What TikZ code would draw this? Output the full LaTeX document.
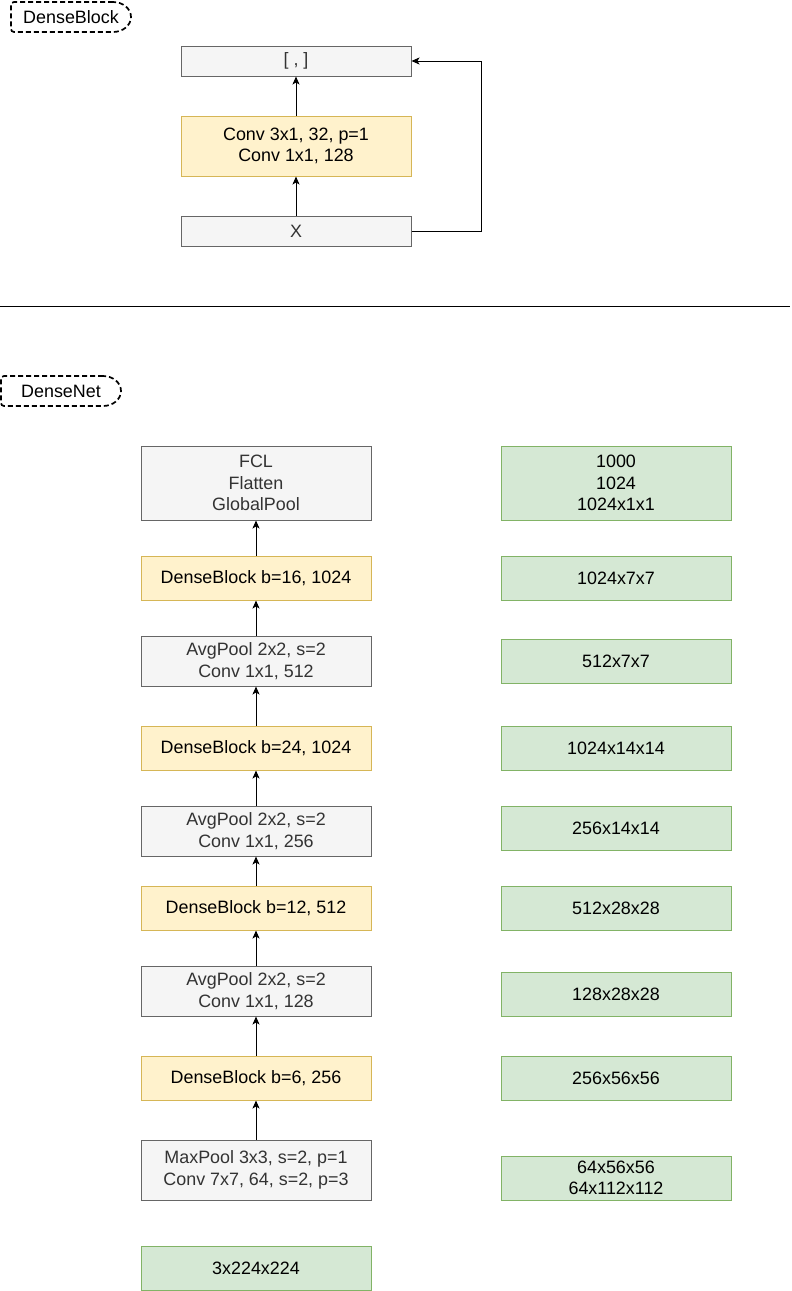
\documentclass[tikz,border=0pt]{standalone}
\usepackage{fontspec}
\setmainfont{Liberation Sans}
\usetikzlibrary{arrows.meta}
\definecolor{grayfill}{HTML}{F5F5F5}
\definecolor{graystroke}{HTML}{666666}
\definecolor{graytext}{HTML}{333333}
\definecolor{yelfill}{HTML}{FFF2CC}
\definecolor{yelstroke}{HTML}{D6B656}
\definecolor{grnfill}{HTML}{D5E8D4}
\definecolor{grnstroke}{HTML}{82B366}
\tikzset{
  box/.style={draw, line width=1pt, minimum width=230pt, inner sep=0pt,
    align=center, font=\fontsize{17.9}{21.5}\selectfont},
  graybox/.style={box, fill=grayfill, draw=graystroke, text=graytext},
  yelbox/.style={box, fill=yelfill, draw=yelstroke, text=black},
  grnbox/.style={box, fill=grnfill, draw=grnstroke, text=black},
  arr/.style={line width=1pt, -{Stealth[length=8pt,width=7pt,inset=2pt]}},
  tagline/.style={line width=1.7pt, dash pattern=on 5pt off 3pt},
  tagtext/.style={font=\fontsize{17.9}{21.5}\selectfont, inner sep=0pt}
}
\begin{document}
\begin{tikzpicture}[x=1pt,y=-1pt]
\useasboundingbox (0,0) rectangle (792,1291);

% ---- DenseBlock tag ----
\draw[tagline] (113,2) [rounded corners=3pt] -- (11,2) -- (11,32) [sharp corners] -- (113,32)
  arc[start angle=90, end angle=-90, x radius=18, y radius=15] -- cycle;
\node[tagtext] (dbtag) at (71,17) {DenseBlock};

% ---- DenseBlock structure ----
\node[graybox, minimum height=30pt] (concat) at (296,61) {[ , ]};
\node[yelbox, minimum height=60pt] (conv) at (296,146) {Conv 3x1, 32, p=1\\Conv 1x1, 128};
\node[graybox, minimum height=30pt] (xin) at (296,231) {X};
\draw[arr] (xin.north) -- (conv.south);
\draw[arr] (conv.north) -- (concat.south);
\draw[arr] (xin.east) -- ++(70,0) |- (concat.east);

% ---- separator ----
\coordinate (sepl) at (0,306);
\coordinate (sepr) at (790,306);
\draw[line width=1pt] (sepl) -- (sepr);

% ---- DenseNet tag ----
\draw[tagline] (103,376) [rounded corners=3pt] -- (1,376) -- (1,406) [sharp corners] -- (103,406)
  arc[start angle=90, end angle=-90, x radius=18, y radius=15] -- cycle;
\node[tagtext] (nettag) at (61,391) {DenseNet};

% ---- DenseNet layers ----
\node[graybox, minimum height=74pt] (fcl) at (256,483) {FCL\\Flatten\\GlobalPool};
\node[yelbox, minimum height=44pt] (db16) at (256,578) {DenseBlock b=16, 1024};
\node[graybox, minimum height=50pt] (ap3) at (256,661) {AvgPool 2x2, s=2\\Conv 1x1, 512};
\node[yelbox, minimum height=44pt] (db24) at (256,748) {DenseBlock b=24, 1024};
\node[graybox, minimum height=50pt] (ap2) at (256,831) {AvgPool 2x2, s=2\\Conv 1x1, 256};
\node[yelbox, minimum height=44pt] (db12) at (256,908) {DenseBlock b=12, 512};
\node[graybox, minimum height=50pt] (ap1) at (256,991) {AvgPool 2x2, s=2\\Conv 1x1, 128};
\node[yelbox, minimum height=44pt] (db6) at (256,1078) {DenseBlock b=6, 256};
\node[graybox, minimum height=60pt] (stem) at (256,1170) {MaxPool 3x3, s=2, p=1\\Conv 7x7, 64, s=2, p=3};
\node[grnbox, minimum height=44pt] (input) at (256,1268) {3x224x224};

\draw[arr] (stem.north) -- (db6.south);
\draw[arr] (db6.north) -- (ap1.south);
\draw[arr] (ap1.north) -- (db12.south);
\draw[arr] (db12.north) -- (ap2.south);
\draw[arr] (ap2.north) -- (db24.south);
\draw[arr] (db24.north) -- (ap3.south);
\draw[arr] (ap3.north) -- (db16.south);
\draw[arr] (db16.north) -- (fcl.south);

% ---- output shapes ----
\node[grnbox, minimum height=74pt] (s1) at (616,483) {1000\\1024\\1024x1x1};
\node[grnbox, minimum height=44pt] (s2) at (616,578) {1024x7x7};
\node[grnbox, minimum height=44pt] (s3) at (616,661) {512x7x7};
\node[grnbox, minimum height=44pt] (s4) at (616,748) {1024x14x14};
\node[grnbox, minimum height=44pt] (s5) at (616,828) {256x14x14};
\node[grnbox, minimum height=44pt] (s6) at (616,908) {512x28x28};
\node[grnbox, minimum height=44pt] (s7) at (616,994) {128x28x28};
\node[grnbox, minimum height=44pt] (s8) at (616,1078) {256x56x56};
\node[grnbox, minimum height=44pt] (s9) at (616,1178) {64x56x56\\64x112x112};
\end{tikzpicture}
\end{document}
